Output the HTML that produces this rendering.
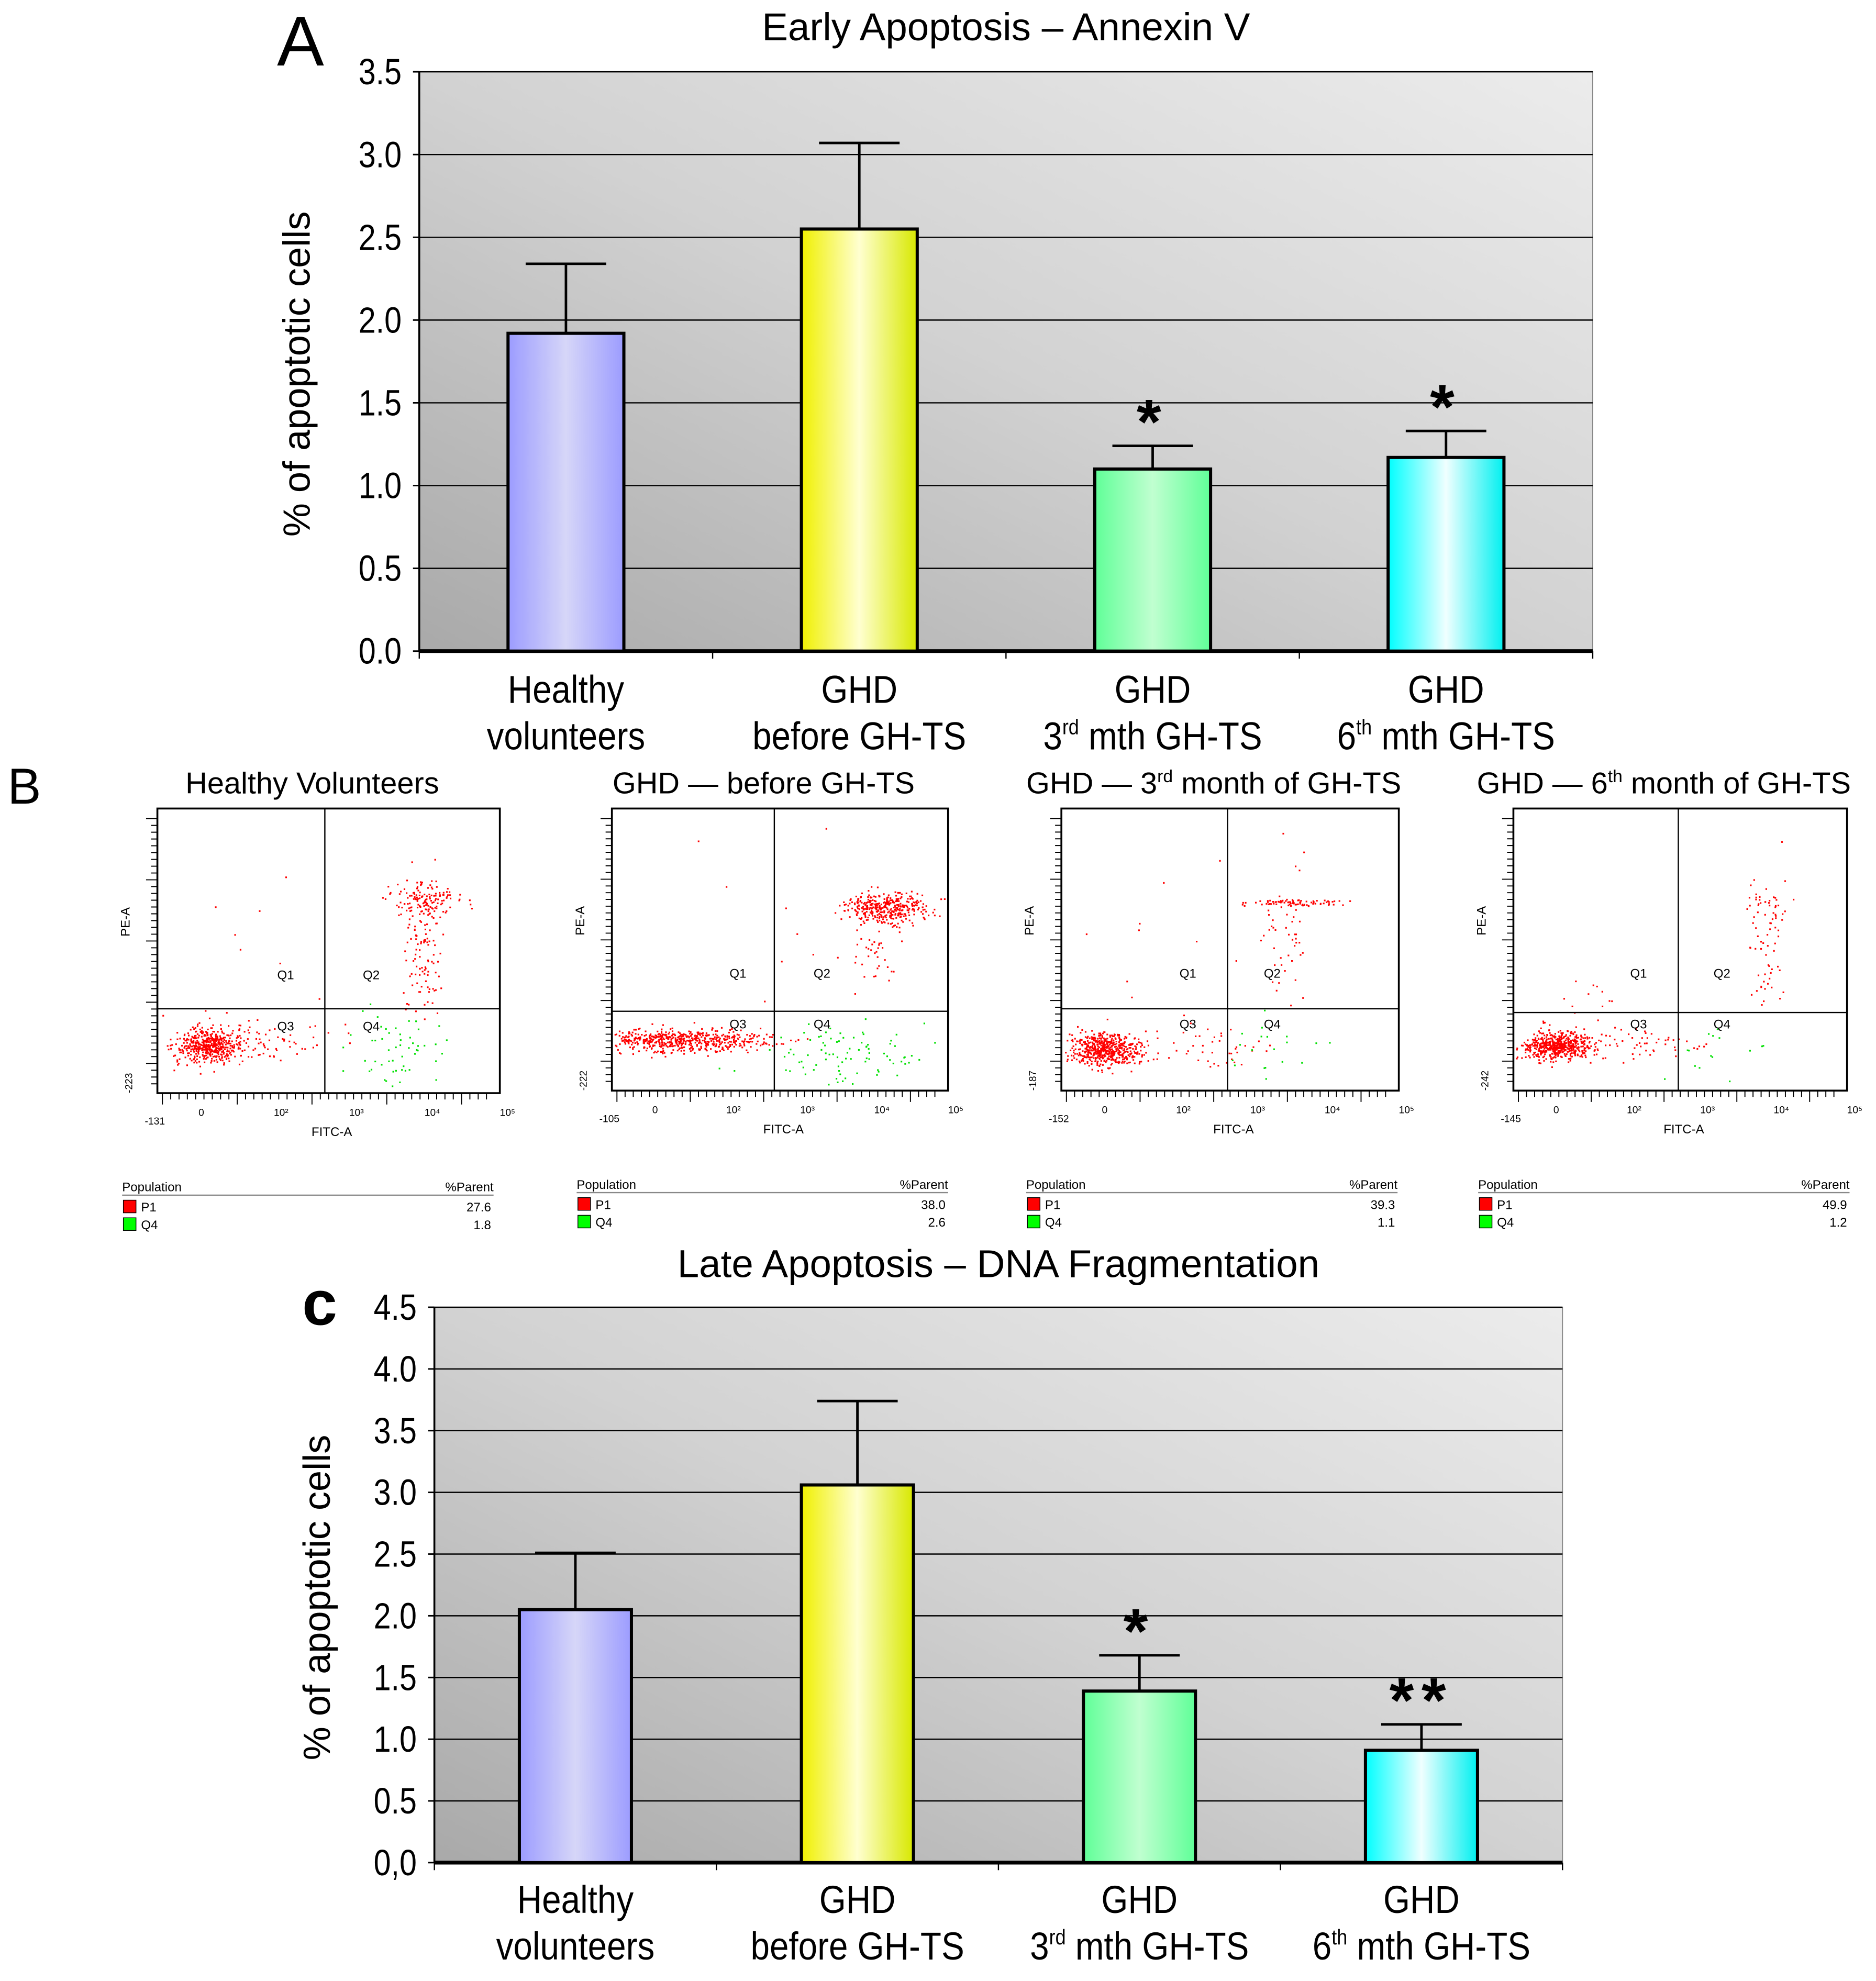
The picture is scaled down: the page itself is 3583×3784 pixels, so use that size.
<!DOCTYPE html>
<html><head><meta charset="utf-8">
<style>
html,body{margin:0;padding:0;background:#fff;}
svg{display:block;}
text{font-family:"Liberation Sans",sans-serif;}
.n{font-family:"Liberation Sans Narrow","Liberation Sans",sans-serif;}
</style></head>
<body>
<svg id="fig" width="3583" height="3784" viewBox="0 0 1490 1573" preserveAspectRatio="none" xmlns="http://www.w3.org/2000/svg">
<defs>
<linearGradient id="bg" x1="0" y1="1" x2="1" y2="0">
<stop offset="0" stop-color="#a9a9a9"/><stop offset="0.5" stop-color="#d2d2d2"/><stop offset="1" stop-color="#ececec"/></linearGradient>
<linearGradient id="gBlue" x1="0" x2="1"><stop offset="0" stop-color="#9c9cff"/><stop offset="0.5" stop-color="#d6d6f8"/><stop offset="1" stop-color="#9c9cff"/></linearGradient>
<linearGradient id="gYel" x1="0" x2="1"><stop offset="0" stop-color="#f0f000"/><stop offset="0.5" stop-color="#ffffd0"/><stop offset="1" stop-color="#d8e800"/></linearGradient>
<linearGradient id="gGrn" x1="0" x2="1"><stop offset="0" stop-color="#60ff98"/><stop offset="0.5" stop-color="#c0ffd0"/><stop offset="1" stop-color="#60ff98"/></linearGradient>
<linearGradient id="gCyn" x1="0" x2="1"><stop offset="0" stop-color="#00ffff"/><stop offset="0.5" stop-color="#f0ffff"/><stop offset="1" stop-color="#00f0f0"/></linearGradient>
</defs>
<g id="chartA"></g>
<g id="flow"></g>
<g id="chartC"></g>
</svg>
<script>
const categories = ["Healthy volunteers","GHD before GH-TS","GHD 3rd mth GH-TS","GHD 6th mth GH-TS"];
const earlyValues = [1.92, 2.55, 1.10, 1.17];
const earlyErrors = [0.42, 0.52, 0.14, 0.16];
const earlyStars = ["", "", "*", "*"];
const earlyTicks = ["0.0","0.5","1.0","1.5","2.0","2.5","3.0","3.5"];
const lateValues = [2.05, 3.06, 1.39, 0.91];
const lateErrors = [0.46, 0.68, 0.29, 0.21];
const lateStars = ["", "", "*", "**"];
const lateTicks = ["0,0","0.5","1.0","1.5","2.0","2.5","3.0","3.5","4.0","4.5"];
const flowTitles = ["Healthy Volunteers","GHD — before GH-TS","GHD — 3rd month of GH-TS","GHD — 6th month of GH-TS"];
const flowP1 = ["27.6","38.0","39.3","49.9"];
const flowQ4 = ["1.8","2.6","1.1","1.2"];

const NS="http://www.w3.org/2000/svg";
function mk(parent,tag,attrs,txt){const e=document.createElementNS(NS,tag);for(const k in attrs)e.setAttribute(k,attrs[k]);if(txt!==undefined)e.textContent=txt;parent.appendChild(e);return e;}
const fills=["url(#gBlue)","url(#gYel)","url(#gGrn)","url(#gCyn)"];

function barChart(g,cfg){
  const {L,R,T,B,max,ticks,values,errors,stars,bw,title,titleY,letter,letterX,letterY,letterSize,labY}=cfg;
  const y=v=>B-v*(B-T)/max;
  const slot=(R-L)/values.length;
  const x=i=>L+(i+0.5)*slot;
  const bg=mk(g,'rect',{x:L,y:T,width:R-L,height:B-T,fill:'url(#bg)',stroke:'#888','stroke-width':0.8});
  
  
  ticks.forEach((t,k)=>{
    const v=k*max/(ticks.length-1);
    if(k>0){const gl=mk(g,'line',{x1:L,x2:R,y1:y(v),y2:y(v),stroke:'#000','stroke-width':1});
      
      }
    mk(g,'line',{x1:L-5,x2:L,y1:y(v),y2:y(v),stroke:'#000','stroke-width':1.2});
    const tl=mk(g,'text',{x:L-14,y:y(v)+10,'font-size':29,'text-anchor':'end',class:'n',transform:`translate(${L-14},0) scale(0.85,1) translate(${-(L-14)},0)`},t);
    
    
  });
  mk(g,'line',{x1:L,x2:L,y1:T,y2:B,stroke:'#000','stroke-width':1.5});
  mk(g,'line',{x1:L,x2:R,y1:B,y2:B,stroke:'#000','stroke-width':3});
  for(let i=0;i<=values.length;i++) mk(g,'line',{x1:L+i*slot,x2:L+i*slot,y1:B,y2:B+6,stroke:'#000','stroke-width':1});
  values.forEach((v,i)=>{
    const cx=x(i);
    const et=y(v+errors[i]);
    const eb=mk(g,'path',{d:`M${cx},${y(v)}V${et}M${cx-32},${et}H${cx+32}`,stroke:'#000','stroke-width':2,fill:'none'});
    
    
    const r=mk(g,'rect',{x:cx-bw/2,y:y(v),width:bw,height:B-y(v),fill:fills[i],stroke:'#000','stroke-width':2.5});
    
    
    if(stars[i]){const s=mk(g,'text',{x:cx,y:et-2,'font-size':50,'font-weight':'bold','text-anchor':'middle','letter-spacing':6},stars[i]);
      
      }
    const lines=[["Healthy","volunteers"],["GHD","before GH-TS"],["GHD","3|rd| mth GH-TS"],["GHD","6|th| mth GH-TS"]][i];
    lines.forEach((ln,j)=>{
      const t=mk(g,'text',{x:cx,y:labY+j*37,'font-size':31,'text-anchor':'middle',class:'n',transform:`translate(${cx},0) scale(0.88,1) translate(${-cx},0)`});
      
      
      const p=ln.split('|');
      if(p.length===1)t.textContent=ln;else{mk(t,'tspan',{},p[0]);mk(t,'tspan',{dy:-12,'font-size':17},p[1]);mk(t,'tspan',{dy:12},p[2]);}
    });
  });
  const tt=mk(g,'text',{x:(L+R)/2,y:titleY,'font-size':31,'text-anchor':'middle'},title);
  
  
  const lt=mk(g,'text',{x:letterX,y:letterY,'font-size':letterSize,'font-weight':cfg.letterBold?'bold':'normal'},letter);
  
  
  const cy=(T+B)/2+10, ax=cfg.yLabX;
  const yl=mk(g,'text',{x:ax,y:cy,'font-size':30,'text-anchor':'middle',transform:`rotate(-90 ${ax} ${cy})`},'% of apoptotic cells');
  
  
}

barChart(document.getElementById('chartA'),{L:333,R:1265,T:57,B:517,max:3.5,ticks:earlyTicks,values:earlyValues,errors:earlyErrors,stars:earlyStars,bw:92,title:'Early Apoptosis – Annexin V',titleY:32,letter:'A',letterX:220,letterY:52,letterSize:56,labY:558,yLabX:246});
barChart(document.getElementById('chartC'),{L:345,R:1241,T:1038,B:1479,max:4.5,ticks:lateTicks,values:lateValues,errors:lateErrors,stars:lateStars,bw:89,title:'Late Apoptosis – DNA Fragmentation',titleY:1014,letter:'c',letterX:240,letterY:1052,letterSize:50,letterBold:true,labY:1519,yLabX:262});

// flow cytometry panels
const flowBoxes=[[125,642,397,868,258,801],[486,642,753,866,615,803],[843,642,1111,866,975,801],[1202,642,1467,866,1333,804]];
const yMin=["-223","-222","-187","-242"], xMin=["-131","-105","-152","-145"];
// cluster specs: [fx, fy, sdx, sdy, n, color]  (fractions of box)
const clusters=[
 [[.15,.83,.05,.03,520,'r'],[.33,.82,.1,.04,60,'r'],[.78,.32,.05,.03,130,'r'],[.77,.5,.025,.12,110,'r'],[.72,.85,.08,.07,55,'g'],[.3,.45,.15,.15,8,'r']],
 [[.2,.82,.13,.02,600,'r'],[.82,.35,.06,.025,380,'r'],[.78,.5,.04,.08,40,'r'],[.7,.87,.12,.06,90,'g'],[.6,.4,.15,.15,12,'r']],
 [[.12,.85,.05,.03,560,'r'],[.4,.85,.12,.04,50,'r'],[.69,.33,.07,.006,80,'r'],[.66,.45,.04,.12,45,'r'],[.6,.85,.08,.06,20,'g'],[.35,.5,.15,.15,15,'r']],
 [[.13,.84,.05,.025,560,'r'],[.35,.83,.1,.03,60,'r'],[.75,.5,.03,.1,55,'r'],[.77,.33,.03,.02,25,'r'],[.2,.66,.05,.04,12,'r'],[.6,.86,.07,.05,15,'g']]
];
let seed=7;function rnd(){seed=(seed*16807)%2147483647;return (seed-1)/2147483646;}
function gauss(){return Math.sqrt(-2*Math.log(rnd()+1e-9))*Math.cos(2*Math.PI*rnd());}
const fg=document.getElementById('flow');
mk(fg,'text',{x:6,y:638,'font-size':40},'B');
flowBoxes.forEach((b,i)=>{
  const [x0,y0,x1,y1,qv,qh]=b, w=x1-x0, h=y1-y0;
  const g=mk(fg,'g',{});
  
  
  const tt=mk(g,'text',{x:(x0+x1)/2-13,y:630,'font-size':24,'text-anchor':'middle'});
  
  
  const tparts=flowTitles[i].split(/(rd|th)(?= month)/);
  if(tparts.length===1) tt.textContent=flowTitles[i]; else {mk(tt,'tspan',{},tparts[0]);mk(tt,'tspan',{dy:-9,'font-size':14},tparts[1]);mk(tt,'tspan',{dy:9},tparts[2]);}
  let dots='',gdots='';
  clusters[i].forEach(c=>{for(let k=0;k<c[4];k++){let px=x0+(c[0]+c[2]*gauss())*w, py=y0+(c[1]+c[3]*gauss())*h;
    if(px<x0+2||px>x1-2||py<y0+2||py>y1-2)continue;
    const s=`M${px.toFixed(1)},${py.toFixed(1)}h1.3v1.3h-1.3z`; if(c[5]==='g')gdots+=s; else dots+=s;}});
  mk(g,'path',{d:dots,fill:'#ff0000'});
  mk(g,'path',{d:gdots,fill:'#00e000'});
  mk(g,'rect',{x:x0,y:y0,width:w,height:h,fill:'none',stroke:'#000','stroke-width':1.5});
  mk(g,'line',{x1:qv,x2:qv,y1:y0,y2:y1,stroke:'#000','stroke-width':1});
  mk(g,'line',{x1:x0,x2:x1,y1:qh,y2:qh,stroke:'#000','stroke-width':1});
  [["Q1",.35,.6],["Q2",.6,.6],["Q3",.35,.78],["Q4",.6,.78]].forEach(q=>mk(g,'text',{x:x0+q[1]*w,y:y0+q[2]*h,'font-size':10},q[0]));
  // ticks
  let t='';for(let k=0;k<40;k++){const xx=x0+4+k*(w-8)/40;t+=`M${xx},${y1}v${k%9===0?9:5}`;const yy=y0+8+k*(h-10)/40;t+=`M${x0},${yy}h${k%9===0?-9:-5}`;}
  mk(g,'path',{d:t,stroke:'#000','stroke-width':0.8});
  ["0","10²","10³","10⁴","10⁵"].forEach((l,k)=>mk(g,'text',{x:x0+w*(0.12+k*0.22),y:y1+18,'font-size':8},l));
  mk(g,'text',{x:x0-10,y:y1+25,'font-size':8},xMin[i]);
  mk(g,'text',{x:x0+w*0.45,y:y1+34,'font-size':10},'FITC-A');
  mk(g,'text',{x:x0-22,y:y0+h*0.45,'font-size':10,transform:`rotate(-90 ${x0-22} ${y0+h*0.45})`},'PE-A');
  mk(g,'text',{x:x0-20,y:y1,'font-size':8,transform:`rotate(-90 ${x0-20} ${y1})`},yMin[i]);
  // legend
  const ly=y1+78, lx=x0-28;
  const lg=mk(g,'g',{});
  
  
  mk(lg,'text',{x:lx,y:ly,'font-size':10},'Population');
  mk(lg,'text',{x:lx+295,y:ly,'font-size':10,'text-anchor':'end'},'%Parent');
  mk(lg,'line',{x1:lx,x2:lx+295,y1:ly+3,y2:ly+3,stroke:'#888','stroke-width':1});
  mk(lg,'rect',{x:lx+1,y:ly+7,width:10,height:10,fill:'#ff0000',stroke:'#000','stroke-width':.6});
  mk(lg,'rect',{x:lx+1,y:ly+21,width:10,height:10,fill:'#00ff00',stroke:'#000','stroke-width':.6});
  mk(lg,'text',{x:lx+15,y:ly+16,'font-size':10},'P1');
  mk(lg,'text',{x:lx+15,y:ly+30,'font-size':10},'Q4');
  mk(lg,'text',{x:lx+293,y:ly+16,'font-size':10,'text-anchor':'end'},flowP1[i]);
  mk(lg,'text',{x:lx+293,y:ly+30,'font-size':10,'text-anchor':'end'},flowQ4[i]);
});
</script>
</body></html>
